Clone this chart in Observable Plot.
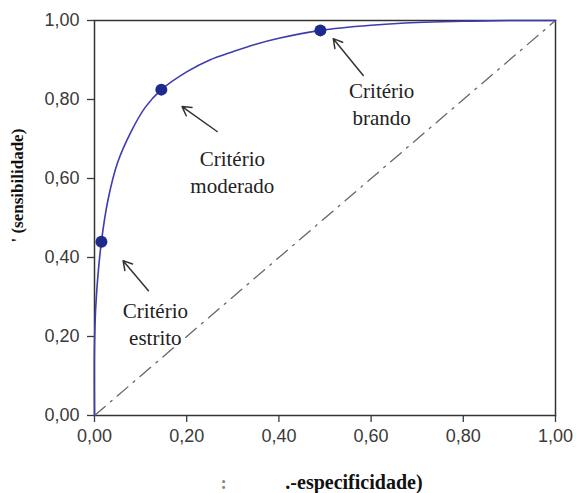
<!DOCTYPE html>
<html>
<head>
<meta charset="utf-8">
<script src="https://cdn.jsdelivr.net/npm/d3@7"></script>
<script src="https://cdn.jsdelivr.net/npm/@observablehq/plot@0.6"></script>
<style>
  html, body { margin: 0; padding: 0; background: #fff; }
</style>
</head>
<body>
<div id="chart"></div>
<script>
// ROC curve (1 - specificity, sensitivity)
const rocFPR = [0, 0.000, 0.004, 0.015, 0.03, 0.05, 0.08, 0.11, 0.145, 0.20, 0.25, 0.30, 0.35, 0.40, 0.49, 0.60, 0.70, 0.80, 0.90, 1.00];
const rocTPR = [0, 0.180, 0.300, 0.440, 0.55, 0.64, 0.72, 0.78, 0.825, 0.87, 0.90, 0.921, 0.940, 0.955, 0.975, 0.988, 0.995, 0.998, 1.00, 1.00];

// Criterion points
const critFPR = [0.015, 0.145, 0.49];
const critTPR = [0.44, 0.825, 0.975];
const critLabels = ["Critério\nestrito", "Critério\nmoderado", "Critério\nbrando"];
const labelX = [0.132, 0.299, 0.623];
const labelY = [0.235, 0.62, 0.792];
const arrowX1 = [0.117, 0.266, 0.583];
const arrowY1 = [0.316, 0.719, 0.861];
const arrowX2 = [0.062, 0.190, 0.518];
const arrowY2 = [0.392, 0.782, 0.954];

// Ticks and axis texts
const ticks = [0, 0.2, 0.4, 0.6, 0.8, 1.0];
const yTitle = "' (sensibilidade)";
const xTitleA = ":";
const xTitleB = ".-especificidade)";

const roc = rocFPR.map((x, i) => ({x, y: rocTPR[i]}));
const crit = critFPR.map((x, i) => ({x, y: critTPR[i]}));
const labels = critLabels.map((t, i) => ({t, x: labelX[i], y: labelY[i]}));
const arrows = arrowX1.map((x1, i) => ({x1, y1: arrowY1[i], x2: arrowX2[i], y2: arrowY2[i]}));
const fmt = d => d.toFixed(2).replace(".", ",");

const serif = "Liberation Serif";
const sans = "Liberation Sans";

const chart = Plot.plot({
  width: 576,
  height: 493,
  marginLeft: 94,
  marginRight: 21,
  marginTop: 20,
  marginBottom: 78,
  x: {domain: [0, 1]},
  y: {domain: [0, 1]},
  marks: [
    Plot.axisX({ticks, tickFormat: fmt, tickSize: 7, tickPadding: 7, fontSize: 18, fontFamily: sans, color: "#3a3a3a", label: null, strokeWidth: 1.3}),
    Plot.axisY({ticks, tickFormat: fmt, tickSize: 7, tickPadding: 8, fontSize: 18, fontFamily: sans, color: "#3a3a3a", label: null, strokeWidth: 1.3}),
    Plot.frame({stroke: "#333", strokeWidth: 1.5}),
    Plot.line([{x: 0, y: 0}, {x: 1, y: 1}], {x: "x", y: "y", stroke: "#666", strokeWidth: 1.3, strokeDasharray: "14,7,2,7"}),
    Plot.line(roc, {x: "x", y: "y", stroke: "#3d3db0", strokeWidth: 1.6, curve: "catmull-rom"}),
    Plot.dot(crit, {x: "x", y: "y", r: 6, fill: "#1e2a8c", stroke: "none"}),
    Plot.arrow(arrows, {x1: "x1", y1: "y1", x2: "x2", y2: "y2", stroke: "#333", strokeWidth: 1.5, headLength: 10}),
    Plot.text(labels, {x: "x", y: "y", text: "t", fontFamily: serif, fontSize: 21, fill: "#222", lineHeight: 1.3}),
    Plot.text([yTitle], {x: -0.167, y: 0.582, text: d => d, rotate: -90, fontFamily: serif, fontWeight: "bold", fontSize: 17, fill: "#111"}),
    Plot.text([xTitleA], {x: 0.280, y: -0.170, text: d => d, fontFamily: serif, fontWeight: "bold", fontSize: 19, fill: "#888"}),
    Plot.text([xTitleB], {x: 0.414, y: -0.170, text: d => d, textAnchor: "start", fontFamily: serif, fontWeight: "bold", fontSize: 20, fill: "#111"})
  ]
});
document.getElementById("chart").appendChild(chart);
</script>
</body>
</html>
